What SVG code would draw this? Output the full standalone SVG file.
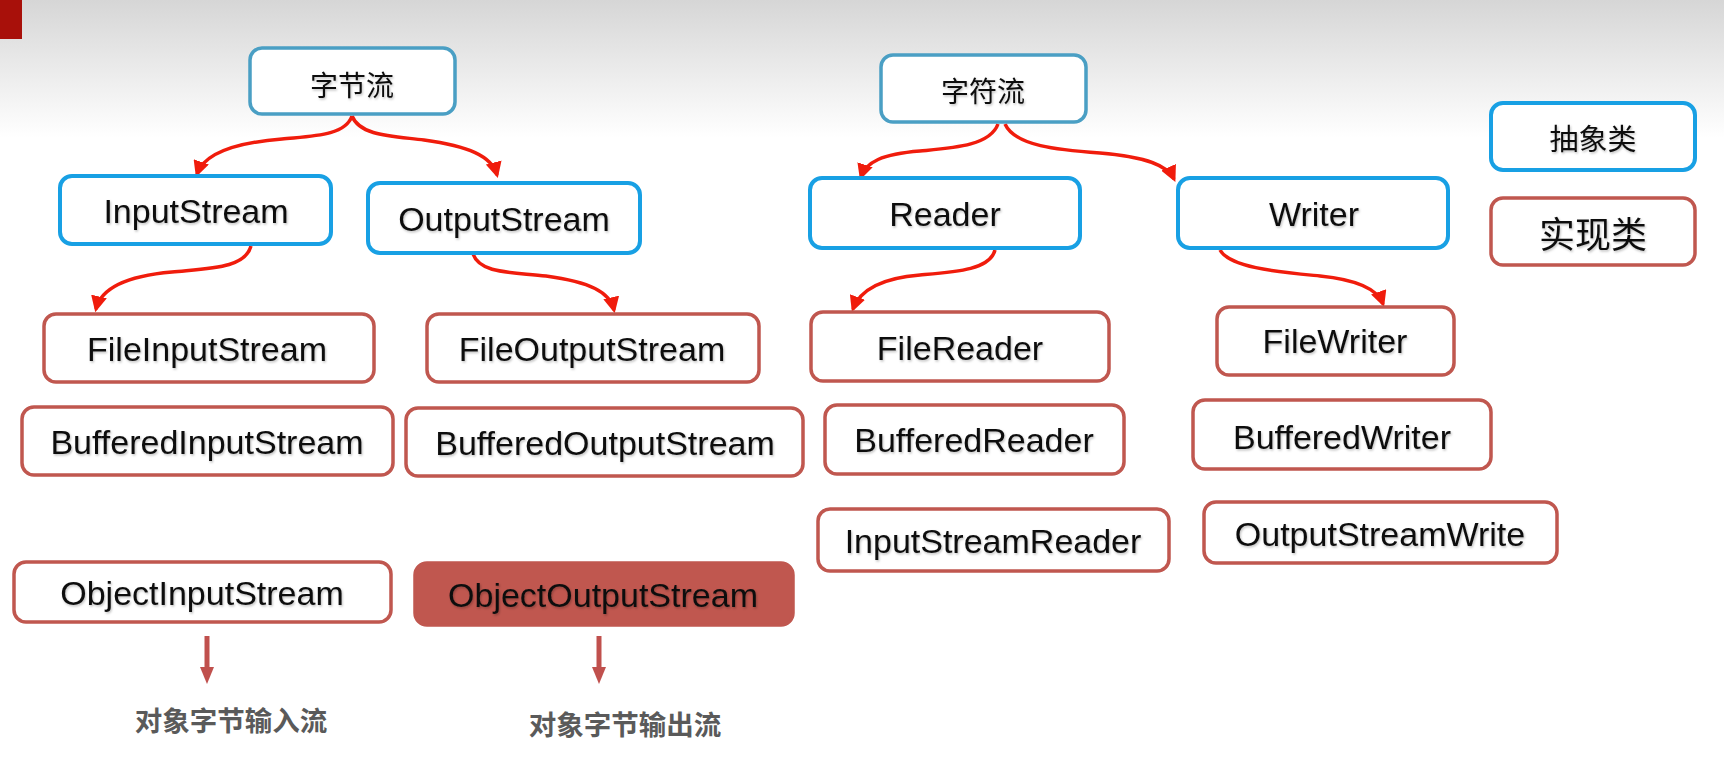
<svg xmlns="http://www.w3.org/2000/svg" width="1724" height="765" viewBox="0 0 1724 765">
<defs>
<linearGradient id="bg" x1="0" y1="0" x2="0" y2="1">
<stop offset="0" stop-color="#d6d6d6"/>
<stop offset="0.18" stop-color="#ffffff"/>
<stop offset="1" stop-color="#ffffff"/>
</linearGradient>
<marker id="ah" viewBox="0 0 10 10" refX="8" refY="5" markerWidth="4.6" markerHeight="4.6" orient="auto" markerUnits="strokeWidth">
<path d="M0,0 L10,5 L0,10 z" fill="#f01c0c"/>
</marker>
<filter id="sh" x="-10%" y="-10%" width="120%" height="130%">
<feDropShadow dx="1" dy="1.5" stdDeviation="1" flood-color="#000" flood-opacity="0.25"/>
</filter>
</defs>
<style>
.top{fill:#fff;stroke:#4a9fc4;stroke-width:3.5}
.abs{fill:#fff;stroke:#18a0e4;stroke-width:4}
.imp{fill:#fff;stroke:#c0574f;stroke-width:3.5}
.impf{fill:#c0574f;stroke:#c0574f;stroke-width:3.5}
.t{font-family:"Liberation Sans","Noto Sans CJK SC",sans-serif;font-size:34px;fill:#111;text-anchor:middle;dominant-baseline:central;filter:url(#sh)}
.cn{font-family:"Noto Sans CJK SC","Liberation Sans",sans-serif;font-size:28px;fill:#111;text-anchor:middle;dominant-baseline:central;filter:url(#sh)}
.lbl{font-family:"Noto Sans CJK SC","Liberation Sans",sans-serif;font-size:27.5px;font-weight:bold;fill:#5a5a5a;text-anchor:middle;dominant-baseline:central}
.c{fill:none;stroke:#f01c0c;stroke-width:3.5;marker-end:url(#ah)}
.d{fill:none;stroke:#c0504d;stroke-width:5}
.dh{fill:#c0504d}
</style>
<rect x="0" y="0" width="1724" height="765" fill="url(#bg)"/>
<rect x="0" y="0" width="22" height="39" fill="#a8100a"/>

<g id="connectors">
<path class="c" d="M352,116 C345,136 312,136 282,139 C232,143 204,154 197,174"/>
<path class="c" d="M352,116 C360,136 392,136 424,140 C468,146 492,156 497,175"/>
<path class="c" d="M251,246 C245,268 212,268 172,272 C126,276 101,288 96,309"/>
<path class="c" d="M473,254 C480,274 512,272 546,276 C590,282 610,292 614,310"/>
<path class="c" d="M998,124 C990,146 952,148 920,151 C882,154 866,162 861,177"/>
<path class="c" d="M1005,124 C1015,146 1058,150 1100,153 C1148,157 1168,166 1174,179"/>
<path class="c" d="M995,250 C990,270 955,272 920,275 C882,278 860,290 853,309"/>
<path class="c" d="M1220,250 C1230,268 1280,272 1320,276 C1360,280 1378,290 1383,304"/>
<path class="d" d="M207,636 L207,668"/>
<polygon class="dh" points="200,667 214,667 207,684"/>
<path class="d" d="M599,636 L599,668"/>
<polygon class="dh" points="592,667 606,667 599,684"/>
</g>

<g id="n-bytestream"><rect class="top" x="250" y="48" width="205" height="66" rx="12"/><text class="cn" x="352" y="84">字节流</text></g>
<g id="n-charstream"><rect class="top" x="881" y="55" width="205" height="67" rx="12"/><text class="cn" x="983" y="90">字符流</text></g>

<g id="n-inputstream"><rect class="abs" x="60" y="176" width="271" height="68" rx="12"/><text class="t" x="196" y="211">InputStream</text></g>
<g id="n-outputstream"><rect class="abs" x="368" y="183" width="272" height="70" rx="12"/><text class="t" x="504" y="219">OutputStream</text></g>
<g id="n-reader"><rect class="abs" x="810" y="178" width="270" height="70" rx="12"/><text class="t" x="945" y="214">Reader</text></g>
<g id="n-writer"><rect class="abs" x="1178" y="178" width="270" height="70" rx="12"/><text class="t" x="1314" y="214">Writer</text></g>

<g id="legend-abstract"><rect class="abs" x="1491" y="103" width="204" height="67" rx="12"/><text class="cn" x="1593" y="137" style="font-size:29px">抽象类</text></g>
<g id="legend-impl"><rect class="imp" x="1491" y="198" width="204" height="67" rx="12"/><text class="cn" x="1593" y="232" style="font-size:36px">实现类</text></g>

<g id="n-fileinputstream"><rect class="imp" x="44" y="314" width="330" height="68" rx="12"/><text class="t" x="207" y="349">FileInputStream</text></g>
<g id="n-fileoutputstream"><rect class="imp" x="427" y="314" width="332" height="68" rx="12"/><text class="t" x="592" y="349">FileOutputStream</text></g>
<g id="n-bufferedinputstream"><rect class="imp" x="22" y="407" width="371" height="68" rx="12"/><text class="t" x="207" y="442">BufferedInputStream</text></g>
<g id="n-bufferedoutputstream"><rect class="imp" x="406" y="408" width="397" height="68" rx="12"/><text class="t" x="605" y="443">BufferedOutputStream</text></g>

<g id="n-filereader"><rect class="imp" x="811" y="312" width="298" height="69" rx="12"/><text class="t" x="960" y="348">FileReader</text></g>
<g id="n-bufferedreader"><rect class="imp" x="825" y="405" width="299" height="69" rx="12"/><text class="t" x="974" y="440">BufferedReader</text></g>
<g id="n-inputstreamreader"><rect class="imp" x="818" y="509" width="351" height="62" rx="12"/><text class="t" x="993" y="541">InputStreamReader</text></g>

<g id="n-filewriter"><rect class="imp" x="1217" y="307" width="237" height="68" rx="12"/><text class="t" x="1335" y="341">FileWriter</text></g>
<g id="n-bufferedwriter"><rect class="imp" x="1193" y="400" width="298" height="69" rx="12"/><text class="t" x="1342" y="437">BufferedWriter</text></g>
<g id="n-outputstreamwrite"><rect class="imp" x="1204" y="502" width="353" height="61" rx="12"/><text class="t" x="1380" y="534">OutputStreamWrite</text></g>

<g id="n-objectinputstream"><rect class="imp" x="14" y="562" width="377" height="60" rx="12"/><text class="t" x="202" y="593">ObjectInputStream</text></g>
<g id="n-objectoutputstream"><rect class="impf" x="415" y="563" width="378" height="62" rx="12"/><text class="t" x="603" y="595">ObjectOutputStream</text></g>

<g id="label-in"><text class="lbl" x="231" y="719">对象字节输入流</text></g>
<g id="label-out"><text class="lbl" x="625" y="723">对象字节输出流</text></g>
</svg>
